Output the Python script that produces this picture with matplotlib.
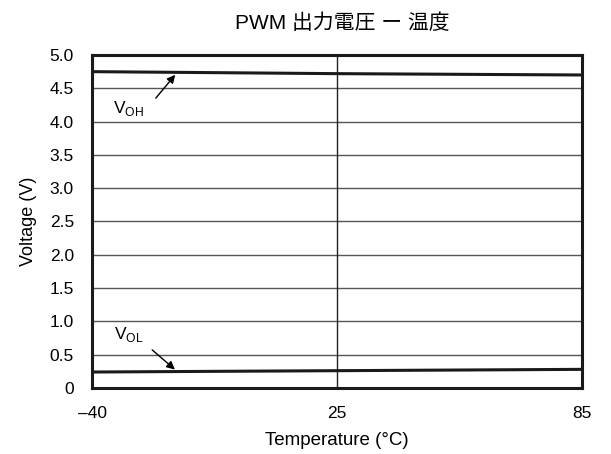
import matplotlib
matplotlib.use("Agg")
import matplotlib.pyplot as plt

plt.rcParams['font.family'] = ['Liberation Sans', 'Noto Sans CJK JP', 'DejaVu Sans']

temp_labels = ['\u201340', '25', '85']
temp_pos = [0, 1, 2]
voh = [4.75, 4.72, 4.70]
vol = [0.24, 0.26, 0.28]
y_ticks = [0, 0.5, 1.0, 1.5, 2.0, 2.5, 3.0, 3.5, 4.0, 4.5, 5.0]
y_tick_labels = ['0', '0.5', '1.0', '1.5', '2.0', '2.5', '3.0', '3.5', '4.0', '4.5', '5.0']

fig = plt.figure(figsize=(6.11, 4.54), dpi=100)
ax = fig.add_axes([92/611, 1-388/454, 490/611, 333/454])

ax.plot(temp_pos, voh, color='#1a1a1a', lw=2.2, zorder=3)
ax.plot(temp_pos, vol, color='#1a1a1a', lw=2.2, zorder=3)

ax.set_xlim(0, 2)
ax.set_ylim(0, 5.0)
ax.set_xticks(temp_pos)
ax.set_xticklabels(temp_labels)
ax.set_yticks(y_ticks)
ax.set_yticklabels(y_tick_labels)
ax.tick_params(length=0, labelsize=12.5)
ax.tick_params(axis='y', pad=13)
ax.tick_params(axis='x', pad=13)

for y in y_ticks[1:-1]:
    ax.axhline(y, color='#555555', lw=1.0, zorder=1)
ax.axvline(1, color='#222222', lw=1.0, zorder=1)

for s in ax.spines.values():
    s.set_linewidth(2.2)
    s.set_color('#1a1a1a')

ax.set_xlabel('Temperature (\u00b0C)', fontsize=13.5, labelpad=8)
ax.set_ylabel('Voltage (V)', fontsize=13, labelpad=9)
ax.set_title('PWM 出力電圧 ー 温度', fontsize=15, pad=19, x=0.51)

ax.annotate('', xy=(0.347, 4.735), xytext=(0.253, 4.32),
            arrowprops=dict(arrowstyle='-|>', color='black', lw=1.0, mutation_scale=12))
ax.text(0.086, 4.20, r'V$_{\mathregular{OH}}$', fontsize=12.5, va='center', ha='left')

ax.annotate('', xy=(0.347, 0.25), xytext=(0.237, 0.60),
            arrowprops=dict(arrowstyle='-|>', color='black', lw=1.0, mutation_scale=12))
ax.text(0.09, 0.80, r'V$_{\mathregular{OL}}$', fontsize=12.5, va='center', ha='left')

fig.savefig('out.png', dpi=100)
